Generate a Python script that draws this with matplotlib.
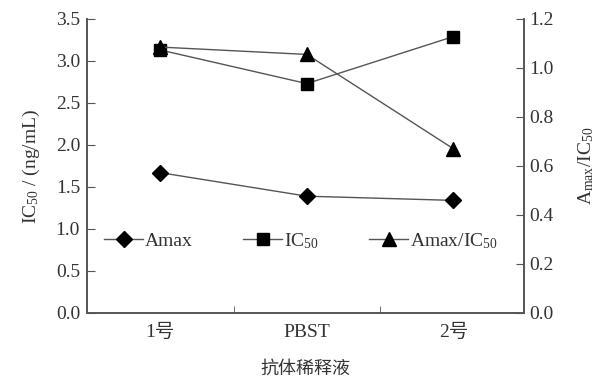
import matplotlib.pyplot as plt
import numpy as np

plt.rcParams['font.family'] = ['Liberation Serif', 'Noto Sans CJK SC']
plt.rcParams['mathtext.fontset'] = 'custom'
plt.rcParams['mathtext.rm'] = 'Liberation Serif'
plt.rcParams['mathtext.it'] = 'Liberation Serif'

# data
categories = ['1号', 'PBST', '2号']
amax = [1.67, 1.39, 1.34]
ic50 = [3.13, 2.73, 3.29]
amax_ic50 = [1.085, 1.055, 0.67]

grey = '#555555'
text_c = '#333333'

fig = plt.figure(figsize=(6, 3.78), dpi=100)
ax = fig.add_axes([0.145, 0.172, 0.728, 0.778])
ax2 = ax.twinx()

x = np.arange(len(categories))
l1, = ax.plot(x, amax, color=grey, lw=1, marker='D', ms=8, mfc='black', mec='black', label='Amax')
l2, = ax.plot(x, ic50, color=grey, lw=1, marker='s', ms=9, mfc='black', mec='black', label='IC$_{50}$')
l3, = ax2.plot(x, amax_ic50, color=grey, lw=1, marker='^', ms=10, mfc='black', mec='black',
               label='Amax/IC$_{50}$')

ax.set_xlim(-0.5, 2.48)
ax.set_ylim(0, 3.5)
ax2.set_ylim(0, 1.2)
ax.set_yticks(np.arange(0, 3.51, 0.5))
ax2.set_yticks(np.arange(0, 1.21, 0.2))
ax.set_yticklabels(['{:.1f}'.format(v) for v in np.arange(0, 3.51, 0.5)])
ax2.set_yticklabels(['{:.1f}'.format(v) for v in np.arange(0, 1.21, 0.2)])

# category labels without ticks, ticks between categories
ax.set_xticks(x)
ax.set_xticklabels(categories)
ax.set_xticks([0.5, 1.5], minor=True)
ax.tick_params(axis='x', which='major', length=0, pad=8)
ax.tick_params(axis='x', which='minor', direction='in', length=5, color=grey)

for a in (ax, ax2):
    a.spines['top'].set_visible(False)
    for s in a.spines.values():
        s.set_color(grey)
        s.set_linewidth(1.2)
    a.tick_params(axis='y', direction='in', length=6, color=grey, labelsize=14, labelcolor=text_c)
ax.tick_params(axis='x', labelsize=14, labelcolor=text_c)
ax.tick_params(axis='y', pad=5)
ax2.tick_params(axis='y', pad=4)

ax.set_ylabel('IC$_{50}$ / (ng/mL)', fontsize=14, color=text_c, labelpad=10)
ax2.set_ylabel('A$_{\\rm max}$/IC$_{50}$', fontsize=14, color=text_c, labelpad=16)
ax.set_xlabel('抗体稀释液', fontsize=13, color=text_c, labelpad=14)

ax.legend(handles=[l1, l2, l3], ncol=3, frameon=False, loc='center',
          bbox_to_anchor=(0.49, 0.245), fontsize=14, handlelength=2.0,
          handletextpad=0.1, columnspacing=2.6, labelcolor=text_c)

fig.savefig('out.png', dpi=100)
